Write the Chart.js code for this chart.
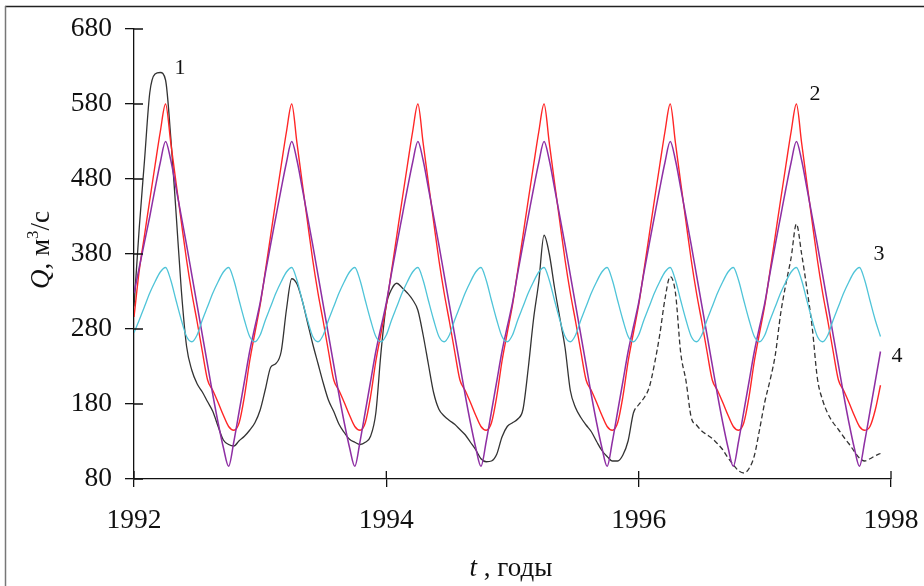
<!DOCTYPE html>
<html>
<head>
<meta charset="utf-8">
<script src="https://cdn.jsdelivr.net/npm/chart.js@4.4.1/dist/chart.umd.min.js"></script>
<style>
  html, body { margin: 0; padding: 0; background: #fff; }
  #wrap { width: 924px; height: 586px; }
</style>
</head>
<body>
<div id="wrap"><canvas id="chart" width="924" height="586"></canvas></div>
<script>
'use strict';

// --- DANE ---
// 24 punkty na rok, od 1992.0
const startYear = 1992;
const stepsPerYear = 24;
const xTicks = [1992, 1994, 1996, 1998];
const yTicks = [80, 180, 280, 380, 480, 580, 680];
const dashFrom = 1995.93; // krzywa 1 przerywana od tego miejsca

// 1 - observed discharge
const curve1 = [
  310, 415, 505, 595, 620, 622, 612, 535, 435, 332, 257, 225, 207, 196, 183, 170, 150, 132, 126, 124, 131, 137, 145, 155,
  172, 200, 229, 234, 250, 306, 347, 340, 318, 289, 260, 234, 208, 185, 170, 153, 142, 133, 129, 126, 129, 137, 168, 250,
  312, 333, 341, 335, 328, 319, 305, 272, 233, 195, 173, 164, 158, 153, 146, 139, 129, 119, 107, 103, 104, 113, 136, 150,
  155, 160, 173, 228, 293, 343, 405, 380, 335, 295, 255, 198, 175, 162, 152, 143, 130, 118, 110, 104, 104, 112, 131, 168,
  179, 188, 202, 233, 272, 320, 350, 328, 248, 211, 162, 152, 144, 139, 134, 127, 119, 108, 99, 91, 88, 94, 111, 146,
  183, 212, 246, 300, 340, 375, 420, 380, 334, 283, 214, 185, 167, 155, 146, 136, 127, 117, 108, 104, 107, 111, 114
];
// 2
const curve2 = [
  296, 358, 405, 452, 498, 543, 580, 528, 475, 423, 372, 328, 290, 250, 212, 198, 182, 165, 150, 145, 155, 190, 237, 275,
  312, 358, 405, 452, 498, 543, 580, 528, 475, 423, 372, 328, 290, 250, 212, 198, 182, 165, 150, 145, 155, 190, 237, 275,
  312, 358, 405, 452, 498, 543, 580, 528, 475, 423, 372, 328, 290, 250, 212, 198, 182, 165, 150, 145, 155, 190, 237, 275,
  312, 358, 405, 452, 498, 543, 580, 528, 475, 423, 372, 328, 290, 250, 212, 198, 182, 165, 150, 145, 155, 190, 237, 275,
  312, 358, 405, 452, 498, 543, 580, 528, 475, 423, 372, 328, 290, 250, 212, 198, 182, 165, 150, 145, 155, 190, 237, 275,
  312, 358, 405, 452, 498, 543, 580, 528, 475, 423, 372, 328, 290, 250, 212, 198, 182, 165, 150, 145, 150, 172, 205
];
// 3
const curve3 = [
  275, 292, 310, 328, 343, 356, 362, 345, 318, 292, 270, 263, 272, 292, 310, 328, 343, 356, 362, 345, 318, 292, 270, 263,
  272, 292, 310, 328, 343, 356, 362, 345, 318, 292, 270, 263, 272, 292, 310, 328, 343, 356, 362, 345, 318, 292, 270, 263,
  272, 292, 310, 328, 343, 356, 362, 345, 318, 292, 270, 263, 272, 292, 310, 328, 343, 356, 362, 345, 318, 292, 270, 263,
  272, 292, 310, 328, 343, 356, 362, 345, 318, 292, 270, 263, 272, 292, 310, 328, 343, 356, 362, 345, 318, 292, 270, 263,
  272, 292, 310, 328, 343, 356, 362, 345, 318, 292, 270, 263, 272, 292, 310, 328, 343, 356, 362, 345, 318, 292, 270, 263,
  272, 292, 310, 328, 343, 356, 362, 345, 318, 292, 270, 263, 272, 292, 310, 328, 343, 356, 362, 345, 318, 292, 270
];
// 4
const curve4 = [
  328, 362, 396, 430, 467, 502, 530, 505, 468, 430, 392, 352, 312, 272, 232, 192, 155, 122, 97, 130, 170, 210, 250, 283,
  315, 355, 393, 430, 467, 502, 530, 505, 468, 430, 392, 352, 312, 272, 232, 192, 155, 122, 97, 130, 170, 210, 250, 283,
  315, 355, 393, 430, 467, 502, 530, 505, 468, 430, 392, 352, 312, 272, 232, 192, 155, 122, 97, 130, 170, 210, 250, 283,
  315, 355, 393, 430, 467, 502, 530, 505, 468, 430, 392, 352, 312, 272, 232, 192, 155, 122, 97, 130, 170, 210, 250, 283,
  315, 355, 393, 430, 467, 502, 530, 505, 468, 430, 392, 352, 312, 272, 232, 192, 155, 122, 97, 130, 170, 210, 250, 283,
  315, 355, 393, 430, 467, 502, 530, 505, 468, 430, 392, 352, 312, 272, 232, 192, 155, 122, 97, 130, 170, 210, 250
];

// numery krzywych (w jednostkach danych)
const curveLabels = [
  { text: '1', x: 1992.365, y: 628 },
  { text: '2', x: 1997.397, y: 593 },
  { text: '3', x: 1997.905, y: 380 },
  { text: '4', x: 1998.048, y: 244 }
];

const serif = "'Liberation Serif', 'Times New Roman', serif";
const ink = '#111';

const toPoints = values => values.map((v, i) => ({ x: startYear + i / stepsPerYear, y: v }));

// ramka, tytuły osi, numery krzywych, wewnętrzne kreski podziałki
const decorations = {
    id: 'decorations',
    beforeDraw(chart) {
        const ctx = chart.ctx;
        ctx.save();
        ctx.fillStyle = '#fff';
        ctx.fillRect(0, 0, chart.width, chart.height);
        ctx.lineWidth = 1.5;
        ctx.strokeStyle = '#222';
        ctx.beginPath();
        ctx.moveTo(5, 6.5);
        ctx.lineTo(chart.width, 6.5);
        ctx.stroke();
        ctx.strokeStyle = '#777';
        ctx.beginPath();
        ctx.moveTo(5.5, 6);
        ctx.lineTo(5.5, chart.height);
        ctx.stroke();
        ctx.restore();
    },
    afterDraw(chart) {
        const { ctx, chartArea, scales: { x, y } } = chart;
        ctx.save();

        // kreski podziałki do środka
        ctx.strokeStyle = ink;
        ctx.lineWidth = 1.3;
        ctx.beginPath();
        xTicks.forEach(v => {
            const px = x.getPixelForValue(v);
            ctx.moveTo(px, chartArea.bottom);
            ctx.lineTo(px, chartArea.bottom - 8);
        });
        yTicks.forEach(v => {
            const py = y.getPixelForValue(v);
            ctx.moveTo(chartArea.left, py);
            ctx.lineTo(chartArea.left + 9, py);
        });
        ctx.stroke();

        ctx.fillStyle = ink;
        ctx.textBaseline = 'alphabetic';

        // t, годы
        ctx.font = `italic 27px ${serif}`;
        const wT = ctx.measureText('t').width;
        ctx.font = `27px ${serif}`;
        const rest = ' , годы';
        const wRest = ctx.measureText(rest).width;
        let sx = 511 - (wT + wRest) / 2;
        ctx.font = `italic 27px ${serif}`;
        ctx.fillText('t', sx, 576);
        ctx.font = `27px ${serif}`;
        ctx.fillText(rest, sx + wT, 576);

        // Q, м³/с
        ctx.save();
        ctx.translate(49, 250);
        ctx.rotate(-Math.PI / 2);
        const parts = [
            { t: 'Q', f: `italic 27px ${serif}`, dy: 0 },
            { t: ', м', f: `27px ${serif}`, dy: 0 },
            { t: '3', f: `17px ${serif}`, dy: -11 },
            { t: '/с', f: `27px ${serif}`, dy: 0 }
        ];
        let total = 0;
        parts.forEach(p => { ctx.font = p.f; p.w = ctx.measureText(p.t).width; total += p.w; });
        let px = -total / 2;
        parts.forEach(p => {
            ctx.font = p.f;
            ctx.fillText(p.t, px, p.dy);
            px += p.w;
        });
        ctx.restore();

        // numery krzywych
        ctx.font = `22px ${serif}`;
        ctx.textAlign = 'center';
        ctx.textBaseline = 'middle';
        curveLabels.forEach(l => {
            ctx.fillText(l.text, x.getPixelForValue(l.x), y.getPixelForValue(l.y));
        });

        ctx.restore();
    }
};

const lineDefaults = {
    pointRadius: 0,
    fill: false,
    cubicInterpolationMode: 'monotone'
};

new Chart(document.getElementById('chart').getContext('2d'), {
    type: 'line',
    data: {
        datasets: [
            { ...lineDefaults, label: '3', data: toPoints(curve3), borderColor: '#4fc4d8', borderWidth: 1.3 },
            { ...lineDefaults, label: '4', data: toPoints(curve4), borderColor: '#8e2fa4', borderWidth: 1.5 },
            { ...lineDefaults, label: '2', data: toPoints(curve2), borderColor: '#ff2626', borderWidth: 1.4 },
            {
                ...lineDefaults, label: '1', data: toPoints(curve1), borderColor: '#333', borderWidth: 1.3,
                segment: { borderDash: ctx => ctx.p0.parsed.x >= dashFrom ? [5, 3] : undefined }
            }
        ]
    },
    options: {
        responsive: false,
        devicePixelRatio: 1,
        animation: false,
        layout: { padding: { top: 29, right: 33, left: 0, bottom: 0 } },
        plugins: { legend: { display: false }, tooltip: { enabled: false } },
        scales: {
            x: {
                type: 'linear',
                min: 1992,
                max: 1998,
                afterBuildTicks: s => { s.ticks = xTicks.map(v => ({ value: v })); },
                afterFit: s => { s.height = 107; s.paddingLeft = 0; s.paddingRight = 0; },
                grid: { drawOnChartArea: false, drawTicks: true, tickLength: 8, color: ink, lineWidth: 1.3 },
                border: { color: ink, width: 1.3 },
                ticks: {
                    font: { family: serif, size: 27.5 }, color: ink, padding: 17, maxRotation: 0, autoSkip: false,
                    callback: v => String(v)
                }
            },
            y: {
                min: 80,
                max: 680,
                afterBuildTicks: s => { s.ticks = yTicks.map(v => ({ value: v })); },
                afterFit: s => { s.width = 134; s.paddingTop = 0; s.paddingBottom = 0; },
                grid: { drawOnChartArea: false, drawTicks: true, tickLength: 9, color: ink, lineWidth: 1.3 },
                border: { color: ink, width: 1.3 },
                ticks: { font: { family: serif, size: 27.5 }, color: ink, padding: 13 }
            }
        }
    },
    plugins: [decorations]
});
</script>
</body>
</html>
